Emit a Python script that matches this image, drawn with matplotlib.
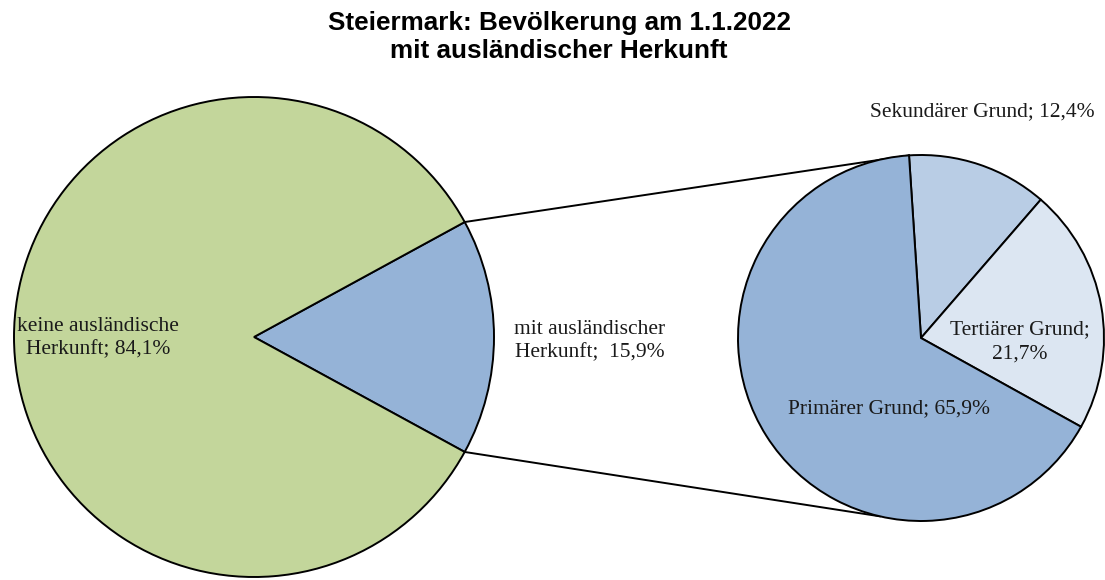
import numpy as np
import matplotlib
matplotlib.use("Agg")
import matplotlib.pyplot as plt

title = "Steiermark: Bevölkerung am 1.1.2022\nmit ausländischer Herkunft"
main_labels = ["mit ausländischer\nHerkunft;  15,9%", "keine ausländische\nHerkunft; 84,1%"]
main_values = [15.9, 84.1]
main_colors = ["#95B3D7", "#C3D69B"]
sub_labels = ["Sekundärer Grund; 12,4%", "Tertiärer Grund;\n21,7%", "Primärer Grund; 65,9%"]
sub_values = [12.4, 21.7, 65.9]
sub_colors = ["#B9CDE5", "#DCE6F2", "#95B3D7"]

W, H = 1105, 580
fig = plt.figure(figsize=(W / 100, H / 100), dpi=100)
ax = fig.add_axes([0, 0, 1, 1])
ax.set_xlim(0, W)
ax.set_ylim(0, H)
ax.set_aspect("equal")
ax.axis("off")

serif = ["Liberation Serif", "DejaVu Serif"]
lw = 1.4

# main pie
c1 = (254, H - 337)
r1 = 240
half = main_values[0] / 100 * 360 / 2
ax.pie(main_values, colors=main_colors, startangle=-half, counterclock=True,
       center=c1, radius=r1, frame=True,
       wedgeprops=dict(edgecolor="black", linewidth=lw))

# sub pie
c2 = (921, H - 338)
r2 = 183
start2 = 93.75
ax.pie(sub_values, colors=sub_colors, startangle=start2, counterclock=False,
       center=c2, radius=r2, frame=True,
       wedgeprops=dict(edgecolor="black", linewidth=lw))
ax.set_xlim(0, W)
ax.set_ylim(0, H)
ax.axis("off")

# connector lines
a_top = np.deg2rad(half)
a_bot = np.deg2rad(-half)
p1t = (c1[0] + r1 * np.cos(a_top), c1[1] + r1 * np.sin(a_top))
p1b = (c1[0] + r1 * np.cos(a_bot), c1[1] + r1 * np.sin(a_bot))
b_top = np.deg2rad(start2)
b_bot = np.deg2rad(-103)
p2t = (c2[0] + r2 * np.cos(b_top), c2[1] + r2 * np.sin(b_top))
p2b = (c2[0] + r2 * np.cos(b_bot), c2[1] + r2 * np.sin(b_bot))
ax.plot([p1t[0], p2t[0]], [p1t[1], p2t[1]], color="black", lw=lw, zorder=0)
ax.plot([p1b[0], p2b[0]], [p1b[1], p2b[1]], color="black", lw=lw, zorder=0)

fs = 15.5
tc = "#1a1a1a"
ls = 1.35
ax.text(590, H - 341, main_labels[0], ha="center", va="center", fontsize=fs,
        family=serif, color=tc, linespacing=ls)
ax.text(98, H - 338, main_labels[1], ha="center", va="center", fontsize=fs,
        family=serif, color=tc, linespacing=ls)
ax.text(982, H - 112, sub_labels[0], ha="center", va="center", fontsize=fs,
        family=serif, color=tc)
ax.text(1020, H - 342, sub_labels[1], ha="center", va="center", fontsize=fs,
        family=serif, color=tc, linespacing=ls)
ax.text(889, H - 409, sub_labels[2], ha="center", va="center", fontsize=fs,
        family=serif, color=tc)

fig.text(559 / W, 1 - 37 / H, title, ha="center", va="center", fontsize=18.8,
         fontweight="bold", family=["Liberation Sans", "DejaVu Sans"],
         linespacing=1.25)

fig.savefig("out.png", dpi=100)
